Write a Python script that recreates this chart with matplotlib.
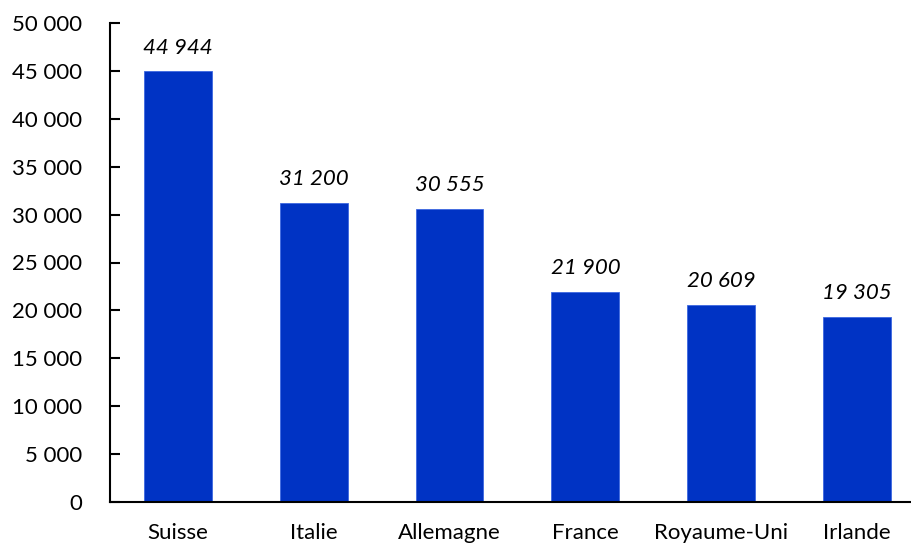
import matplotlib
matplotlib.use("Agg")
from matplotlib import pyplot as plt
from matplotlib.ticker import FuncFormatter

pays = ["Suisse", "Italie", "Allemagne", "France", "Royaume-Uni", "Irlande"]
valeurs = [44944, 31200, 30555, 21900, 20609, 19305]
yticks = [0, 5000, 10000, 15000, 20000, 25000, 30000, 35000, 40000, 45000, 50000]

plt.rcParams["font.family"] = ["Lato", "DejaVu Sans"]


def fmt(v, pos=None):
    return f"{int(v):,}".replace(",", " ")


fig = plt.figure(figsize=(9.12, 5.45), dpi=100)
ax = fig.add_axes([110 / 912, 43 / 545, 802 / 912, 479 / 545])

x = range(len(pays))
ax.bar(x, valeurs, width=0.5, color="#0033c4", edgecolor="#3d68e0", linewidth=0.6)

for i, v in zip(x, valeurs):
    ax.annotate(fmt(v), (i, v), xytext=(0, 10), textcoords="offset points",
                ha="center", va="bottom", fontsize=16, style="italic")

ax.set_xlim(-0.5, 5.405)
ax.set_ylim(0, 50000)
ax.set_yticks(yticks)
ax.yaxis.set_major_formatter(FuncFormatter(fmt))
ax.set_xticks(list(x))
ax.set_xticklabels(pays)

ax.tick_params(axis="y", direction="in", length=7, width=1.5, labelsize=16, pad=20)
ax.tick_params(axis="x", length=0, labelsize=16, pad=15)

ax.spines["top"].set_visible(False)
ax.spines["right"].set_visible(False)
ax.spines["left"].set_linewidth(1.5)
ax.spines["bottom"].set_linewidth(1.5)

plt.savefig("out.png", dpi=100)
